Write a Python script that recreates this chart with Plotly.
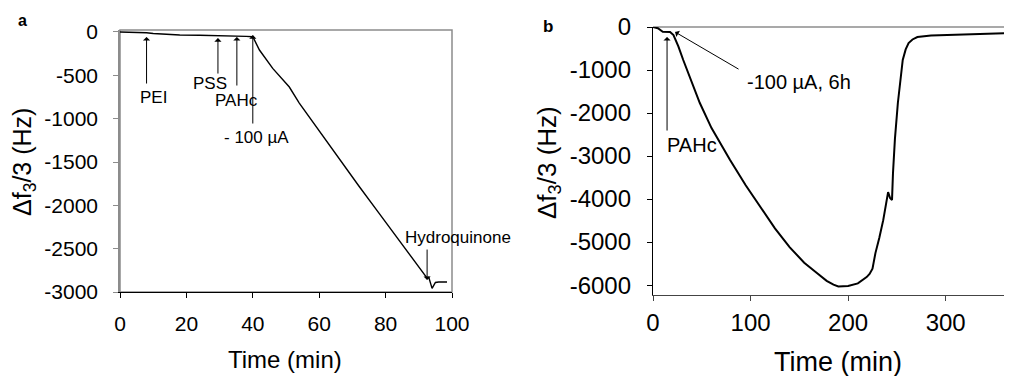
import plotly.graph_objects as go

# Panel a: QCM frequency shift during layer build-up and current
time_a = [0, 5, 8, 10, 14, 18, 24, 30, 35, 38, 40, 42, 46, 51, 54, 60, 66, 72, 78,
          81, 86, 90, 92.5, 93, 94, 95, 96, 98.5]
shift_a = [0, -3, -8, -18, -28, -35, -37, -40, -45, -50, -55, -208, -420, -635, -820,
           -1140, -1470, -1780, -2090, -2245, -2510, -2720, -2840, -2830, -2958, -2890,
           -2885, -2885]

# Panel b: -100 uA for 6 h
time_b = [0, 5, 10, 14, 17.5, 21, 26, 31, 40, 48, 60, 79, 95, 110, 125, 140, 155, 168,
          178, 185, 190, 200, 210, 219, 222, 225, 228, 232, 236, 239, 241, 243, 245, 246,
          248, 251, 254, 256, 259, 262, 266, 271, 285, 308, 340, 368]
shift_b = [0, -30, -110, -120, -116, -186, -450, -767, -1280, -1767, -2350, -3093, -3680,
           -4186, -4680, -5116, -5480, -5720, -5900, -5990, -6030, -6020, -5960, -5814,
           -5740, -5620, -5256, -4900, -4490, -4100, -3837, -3977, -4023, -3400, -2600,
           -1767, -1150, -767, -520, -372, -290, -233, -200, -186, -160, -140]

# tick labels (hyphen minus, as in the original)
xticks_a = [0, 20, 40, 60, 80, 100]
yticks_a = [0, -500, -1000, -1500, -2000, -2500, -3000]
xticks_b = [0, 100, 200, 300]
yticks_b = [0, -1000, -2000, -3000, -4000, -5000, -6000]

# annotations: (panel, label, arrow x, arrow y, tail dx, tail dy, text x, text y, anchor)
arrows = [
    ("a", "PEI", 8, -58, 0, 48, 10.2, -750, "center"),
    ("a", "PSS", 29.5, -70, 0, 37, 27.1, -600, "center"),
    ("a", "PAHc", 35.2, -58, 0, 50, 35.2, -785, "center"),
    ("a", "- 100 µA", 40, -35, 0, 90, 41, -1212, "center"),
    ("a", "Hydroquinone", 92.5, -2862, 0, -32, 85.2, -2366, "left"),
    ("b", "PAHc", 14.4, -233, 0, 95, 40, -2750, "center"),
    ("b", "-100 µA, 6h", 22.6, -116, 65, 38, 94, -1280, "left"),
]

FONT = "Liberation Sans, Arial, sans-serif"
GRAY = "#8c8c8c"

# the page body adds an 8 px margin, so the figure is drawn 8 px in from the corner
W, H, OFF = 1004, 368, 8


def fx(p):
    return (p - OFF) / W


def fy(p):
    return 1 - (p - OFF) / H


fig = go.Figure()
fig.add_trace(go.Scatter(x=time_a, y=shift_a, mode="lines", xaxis="x", yaxis="y",
                         line=dict(color="black", width=1.4), showlegend=False))
fig.add_trace(go.Scatter(x=time_b, y=shift_b, mode="lines", xaxis="x2", yaxis="y2",
                         line=dict(color="black", width=2), showlegend=False))

annos = []
for panel, label, hx, hy, dx, dy, tx, ty, anchor in arrows:
    xr = "x" if panel == "a" else "x2"
    yr = "y" if panel == "a" else "y2"
    size = 17 if panel == "a" else 20
    annos.append(dict(x=hx, y=hy, xref=xr, yref=yr, text="", showarrow=True,
                      ax=dx, ay=dy, arrowhead=1, arrowsize=1.2, arrowwidth=1,
                      arrowcolor="black"))
    annos.append(dict(x=tx, y=ty, xref=xr, yref=yr, text=label, showarrow=False,
                      xanchor=anchor, yanchor="middle",
                      font=dict(family=FONT, size=size, color="black")))


def paper_text(x, y, text, size, angle=0):
    return dict(x=fx(x), y=fy(y), xref="paper", yref="paper", text=text,
                textangle=angle, showarrow=False, xanchor="center", yanchor="middle",
                font=dict(family=FONT, size=size, color="black"))


# panel letters and axis titles
annos += [
    paper_text(22, 20, "<b>a</b>", 16),
    paper_text(548, 26, "<b>b</b>", 17),
    paper_text(285, 359, "Time (min)", 24),
    paper_text(838, 362, "Time (min)", 27),
    paper_text(24, 162, "Δf<sub>3</sub>/3 (Hz)", 25, -90),
    paper_text(548, 163, "Δf<sub>3</sub>/3 (Hz)", 26, -90),
]


def labels(vals):
    return [str(v) for v in vals]


fig.update_layout(
    width=W, height=H,
    margin=dict(l=0, r=0, t=0, b=0),
    plot_bgcolor="white", paper_bgcolor="white",
    annotations=annos,
    shapes=[
        dict(type="rect", xref="x domain", yref="y domain", x0=0, x1=1, y0=0, y1=1,
             line=dict(color=GRAY, width=1.5), layer="below"),
        dict(type="line", xref="x2 domain", yref="y2 domain", x0=0, x1=1, y0=1, y1=1,
             line=dict(color=GRAY, width=1.5), layer="below"),
    ],
    xaxis=dict(domain=[fx(120), fx(452)], range=[0, 100], automargin=False,
               tickvals=xticks_a, ticktext=labels(xticks_a),
               showgrid=False, zeroline=False, showline=True, linecolor="black", linewidth=1.3,
               ticks="outside", ticklen=5, tickcolor="black", ticklabelstandoff=8,
               tickfont=dict(family=FONT, size=21, color="black"), anchor="y"),
    yaxis=dict(domain=[fy(292), fy(30)], range=[-3000, 23], automargin=False,
               tickvals=yticks_a, ticktext=labels(yticks_a),
               showgrid=False, zeroline=False, showline=True, linecolor=GRAY, linewidth=1.5,
               ticks="outside", ticklen=5, tickcolor=GRAY, ticklabelstandoff=11,
               tickfont=dict(family=FONT, size=21, color="black"), anchor="x"),
    xaxis2=dict(domain=[fx(653), 1.0], range=[0, 368], automargin=False,
                tickvals=xticks_b, ticktext=labels(xticks_b),
                showgrid=False, zeroline=False, showline=True, linecolor="#444444", linewidth=1.3,
                ticks="outside", ticklen=5, tickcolor="#444444", ticklabelstandoff=1,
                tickfont=dict(family=FONT, size=24, color="black"), anchor="y2"),
    yaxis2=dict(domain=[fy(295), fy(27)], range=[-6230, 0], automargin=False,
                tickvals=yticks_b, ticktext=labels(yticks_b),
                showgrid=False, zeroline=False, showline=True, linecolor="black", linewidth=1.3,
                ticks="outside", ticklen=5, tickcolor="black", ticklabelstandoff=11,
                tickfont=dict(family=FONT, size=24, color="black"), anchor="x2"),
)

fig.write_html("out.html")
